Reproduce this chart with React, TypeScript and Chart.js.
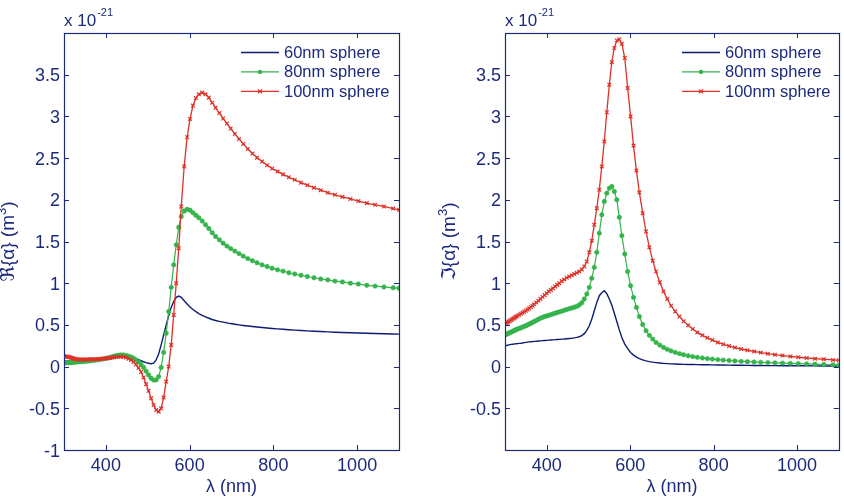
import React, { useEffect, useRef } from "react";
import { Chart, registerables } from "chart.js";
Chart.register(...registerables);

// ---------- data ----------
const wavelengths = [
  300, 303, 306, 309, 312, 315, 318, 321, 324, 327,
  330, 334, 338, 342, 346, 350, 354, 358, 362, 366,
  370, 375, 380, 385, 390, 395, 400, 405, 410, 415,
  420, 425, 430, 436, 442, 448, 454, 460, 466, 472,
  478, 484, 490, 496, 502, 508, 514, 520, 526, 532,
  538, 544, 550, 556, 562, 568, 574, 580, 587, 594,
  601, 608, 615, 622, 630, 638, 646, 654, 662, 671,
  680, 689, 698, 708, 718, 728, 739, 750, 761, 773,
  785, 797, 810, 823, 837, 851, 866, 881, 897, 913,
  930, 947, 965, 984, 1003, 1023, 1043, 1064, 1086, 1100,
];

const re60 = [
  0.07, 0.07, 0.071, 0.072, 0.072, 0.073, 0.074, 0.074, 0.075, 0.075,
  0.076, 0.077, 0.078, 0.079, 0.08, 0.082, 0.083, 0.085, 0.086, 0.088,
  0.09, 0.092, 0.095, 0.098, 0.10, 0.103, 0.106, 0.109, 0.112, 0.116,
  0.12, 0.124, 0.127, 0.13, 0.129, 0.125, 0.12, 0.114, 0.105, 0.095,
  0.083, 0.07, 0.058, 0.048, 0.04, 0.035, 0.042, 0.08, 0.15, 0.26,
  0.38, 0.50, 0.61, 0.71, 0.78, 0.83, 0.845, 0.83, 0.79, 0.75,
  0.715, 0.685, 0.66, 0.635, 0.615, 0.595, 0.58, 0.565, 0.553, 0.542,
  0.533, 0.525, 0.516, 0.508, 0.50, 0.493, 0.486, 0.48, 0.474, 0.468,
  0.462, 0.457, 0.452, 0.447, 0.442, 0.437, 0.432, 0.428, 0.424, 0.42,
  0.416, 0.412, 0.409, 0.406, 0.403, 0.40, 0.397, 0.394, 0.391, 0.389,
];

const re80 = [
  0.05, 0.048, 0.047, 0.047, 0.047, 0.048, 0.05, 0.052, 0.054, 0.055,
  0.056, 0.057, 0.058, 0.06, 0.062, 0.064, 0.066, 0.068, 0.07, 0.072,
  0.075, 0.078, 0.082, 0.086, 0.09, 0.095, 0.10, 0.105, 0.11, 0.118,
  0.125, 0.132, 0.137, 0.14, 0.14, 0.135, 0.125, 0.115, 0.10, 0.08,
  0.055, 0.025, -0.01, -0.055, -0.10, -0.14, -0.162, -0.16, -0.12, -0.01,
  0.17, 0.40, 0.66, 0.95, 1.22, 1.46, 1.67, 1.80, 1.865, 1.886,
  1.875, 1.845, 1.815, 1.785, 1.745, 1.70, 1.655, 1.605, 1.56, 1.52,
  1.48, 1.445, 1.415, 1.385, 1.355, 1.325, 1.295, 1.27, 1.245, 1.22,
  1.20, 1.18, 1.16, 1.145, 1.125, 1.11, 1.095, 1.08, 1.065, 1.05,
  1.04, 1.025, 1.015, 1.0, 0.99, 0.975, 0.965, 0.955, 0.945, 0.94,
];

const re100 = [
  0.12, 0.12, 0.12, 0.118, 0.115, 0.11, 0.105, 0.10, 0.095, 0.09,
  0.088, 0.086, 0.085, 0.085, 0.085, 0.085, 0.085, 0.086, 0.087, 0.088,
  0.088, 0.089, 0.09, 0.09, 0.092, 0.094, 0.096, 0.10, 0.104, 0.108,
  0.112, 0.116, 0.118, 0.118, 0.115, 0.108, 0.095, 0.078, 0.055, 0.025,
  -0.015, -0.065, -0.13, -0.21, -0.29, -0.38, -0.46, -0.52, -0.54, -0.50,
  -0.37, -0.18, 0.0, 0.26, 0.62, 1.0, 1.42, 1.92, 2.40, 2.75,
  2.97, 3.13, 3.22, 3.265, 3.285, 3.265, 3.225, 3.165, 3.105, 3.04,
  2.975, 2.915, 2.855, 2.79, 2.73, 2.67, 2.61, 2.555, 2.505, 2.46,
  2.415, 2.375, 2.34, 2.305, 2.27, 2.24, 2.205, 2.175, 2.145, 2.115,
  2.085, 2.06, 2.035, 2.01, 1.985, 1.96, 1.94, 1.92, 1.895, 1.88,
];

const im60 = [
  0.247, 0.252, 0.256, 0.26, 0.263, 0.266, 0.268, 0.27, 0.272, 0.274,
  0.276, 0.278, 0.28, 0.283, 0.287, 0.29, 0.293, 0.296, 0.298, 0.30,
  0.302, 0.304, 0.307, 0.309, 0.311, 0.313, 0.315, 0.317, 0.319, 0.321,
  0.323, 0.325, 0.327, 0.329, 0.331, 0.334, 0.337, 0.34, 0.344, 0.35,
  0.358, 0.372, 0.395, 0.435, 0.49, 0.57, 0.67, 0.77, 0.85, 0.885,
  0.91, 0.875, 0.81, 0.735, 0.64, 0.54, 0.44, 0.35, 0.27, 0.215,
  0.17, 0.138, 0.114, 0.096, 0.08, 0.069, 0.06, 0.053, 0.048, 0.043,
  0.039, 0.036, 0.033, 0.031, 0.029, 0.027, 0.026, 0.025, 0.024, 0.023,
  0.022, 0.021, 0.02, 0.019, 0.018, 0.017, 0.016, 0.015, 0.014, 0.013,
  0.012, 0.012, 0.011, 0.011, 0.01, 0.01, 0.009, 0.008, 0.008, 0.007,
];

const im80 = [
  0.38, 0.387, 0.394, 0.40, 0.408, 0.415, 0.422, 0.43, 0.437, 0.444,
  0.45, 0.457, 0.465, 0.473, 0.482, 0.49, 0.50, 0.51, 0.52, 0.53,
  0.54, 0.553, 0.567, 0.58, 0.59, 0.60, 0.607, 0.615, 0.623, 0.632,
  0.64, 0.648, 0.656, 0.665, 0.675, 0.685, 0.695, 0.703, 0.712, 0.722,
  0.74, 0.765, 0.81, 0.87, 0.95, 1.06, 1.19, 1.37, 1.60, 1.82,
  1.98, 2.08, 2.14, 2.16, 2.10, 2.0, 1.79, 1.57, 1.35, 1.14,
  0.97, 0.83, 0.71, 0.60, 0.505, 0.43, 0.375, 0.33, 0.29, 0.258,
  0.23, 0.207, 0.188, 0.17, 0.155, 0.142, 0.13, 0.12, 0.111, 0.103,
  0.096, 0.09, 0.084, 0.078, 0.073, 0.068, 0.063, 0.059, 0.055, 0.051,
  0.048, 0.045, 0.042, 0.039, 0.036, 0.033, 0.029, 0.025, 0.021, 0.018,
];

const im100 = [
  0.51, 0.52, 0.53, 0.54, 0.55, 0.56, 0.57, 0.58, 0.59, 0.60,
  0.61, 0.622, 0.634, 0.646, 0.658, 0.67, 0.685, 0.70, 0.715, 0.73,
  0.747, 0.768, 0.79, 0.812, 0.835, 0.857, 0.88, 0.90, 0.92, 0.94,
  0.96, 0.98, 1.0, 1.025, 1.045, 1.065, 1.08, 1.095, 1.11, 1.125,
  1.14, 1.165, 1.20, 1.26, 1.37, 1.51, 1.70, 1.90, 2.12, 2.40,
  2.70, 3.05, 3.38, 3.65, 3.82, 3.91, 3.925, 3.87, 3.70, 3.34,
  3.00, 2.65, 2.35, 2.09, 1.84, 1.62, 1.43, 1.27, 1.14, 1.01,
  0.90, 0.81, 0.73, 0.66, 0.60, 0.545, 0.495, 0.45, 0.41, 0.375,
  0.345, 0.318, 0.29, 0.268, 0.246, 0.228, 0.211, 0.196, 0.182, 0.168,
  0.155, 0.143, 0.132, 0.122, 0.112, 0.103, 0.095, 0.088, 0.08, 0.076,
];

const seriesLabels = ["60nm sphere", "80nm sphere", "100nm sphere"];
const xTicks = [400, 600, 800, 1000];
const yTicks = [-1, -0.5, 0, 0.5, 1, 1.5, 2, 2.5, 3, 3.5];
const yLabelsLeft = [-1, -0.5, 0, 0.5, 1, 1.5, 2, 2.5, 3, 3.5];
const yLabelsRight = [-0.5, 0, 0.5, 1, 1.5, 2, 2.5, 3, 3.5];
const xTitle = "λ (nm)";
const yTitleLeft = ["ℜ{α} (m", "3", ")"];
const yTitleRight = ["ℑ{α} (m", "3", ")"];
const expBase = "x 10";
const expPower = "-21";

// ---------- style ----------
const AXIS = "#1c2a7c";
const BLUE = "#0d1c72";
const GREEN = "#35b34c";
const RED = "#dd3128";
const FONT = '"Liberation Sans", Arial, "DejaVu Sans", sans-serif';

type Panel = {
  series: number[][];
  yLabels: number[];
  yTitle: string[];
  padding: { left: number; right: number; top: number; bottom: number };
  yTitleX: number;
  legendX: number;
};

const leftPanel: Panel = {
  series: [re60, re80, re100],
  yLabels: yLabelsLeft,
  yTitle: yTitleLeft,
  padding: { left: 64, right: 23, top: 33, bottom: 48 },
  yTitleX: 14,
  legendX: 241,
};

const rightPanel: Panel = {
  series: [im60, im80, im100],
  yLabels: yLabelsRight,
  yTitle: yTitleRight,
  padding: { left: 83, right: 4, top: 33, bottom: 48 },
  yTitleX: 33,
  legendX: 260,
};

const colors = [BLUE, GREEN, RED];

function drawMarker(ctx: CanvasRenderingContext2D, i: number, x: number, y: number) {
  if (i === 1) {
    ctx.fillStyle = GREEN;
    ctx.beginPath();
    ctx.arc(x, y, 2.2, 0, Math.PI * 2);
    ctx.fill();
  } else if (i === 2) {
    ctx.strokeStyle = RED;
    ctx.lineWidth = 1.2;
    ctx.beginPath();
    ctx.moveTo(x - 2, y - 2);
    ctx.lineTo(x + 2, y + 2);
    ctx.moveTo(x + 2, y - 2);
    ctx.lineTo(x - 2, y + 2);
    ctx.stroke();
  }
}

function decorPlugin(p: Panel) {
  return {
    id: "decor",
    afterDatasetsDraw(chart: any) {
      const ctx: CanvasRenderingContext2D = chart.ctx;
      const a = chart.chartArea;
      const xs = chart.scales.x;
      const ys = chart.scales.y;
      ctx.save();
      // box
      ctx.strokeStyle = AXIS;
      ctx.lineWidth = 1.2;
      ctx.strokeRect(Math.round(a.left) + 0.5, Math.round(a.top) + 0.5, Math.round(a.right - a.left), Math.round(a.bottom - a.top));
      // inward ticks
      ctx.lineWidth = 1;
      ctx.beginPath();
      for (const v of xTicks) {
        const x = Math.round(xs.getPixelForValue(v)) + 0.5;
        ctx.moveTo(x, a.bottom);
        ctx.lineTo(x, a.bottom - 5);
        ctx.moveTo(x, a.top);
        ctx.lineTo(x, a.top + 5);
      }
      for (const v of yTicks) {
        const y = Math.round(ys.getPixelForValue(v)) + 0.5;
        ctx.moveTo(a.left, y);
        ctx.lineTo(a.left + 5, y);
        ctx.moveTo(a.right, y);
        ctx.lineTo(a.right - 5, y);
      }
      ctx.stroke();
      // tick labels
      ctx.fillStyle = AXIS;
      ctx.font = `18px ${FONT}`;
      ctx.textBaseline = "alphabetic";
      ctx.textAlign = "right";
      for (const v of p.yLabels) {
        const y = ys.getPixelForValue(v);
        ctx.fillText(String(v), a.left - 4, y + 6.5);
      }
      ctx.textAlign = "center";
      for (const v of xTicks) {
        const x = xs.getPixelForValue(v);
        ctx.fillText(String(v), x, 471);
      }
      // x title
      ctx.fillText(xTitle, (a.left + a.right) / 2, 492);
      // y title (with superscript)
      ctx.save();
      ctx.translate(p.yTitleX, (a.top + a.bottom) / 2);
      ctx.rotate(-Math.PI / 2);
      ctx.textAlign = "left";
      const mainFont = `19px ${FONT}`;
      const supFont = `13px ${FONT}`;
      ctx.font = mainFont;
      const w0 = ctx.measureText(p.yTitle[0]).width;
      const w2 = ctx.measureText(p.yTitle[2]).width;
      ctx.font = supFont;
      const w1 = ctx.measureText(p.yTitle[1]).width;
      let cx = -(w0 + w1 + w2) / 2;
      ctx.font = mainFont;
      ctx.fillText(p.yTitle[0], cx, 0);
      cx += w0;
      ctx.font = supFont;
      ctx.fillText(p.yTitle[1], cx, -8);
      cx += w1;
      ctx.font = mainFont;
      ctx.fillText(p.yTitle[2], cx, 0);
      ctx.restore();
      // exponent
      ctx.textAlign = "left";
      ctx.font = `17px ${FONT}`;
      ctx.fillText(expBase, a.left, 26);
      const w = ctx.measureText(expBase).width;
      ctx.font = `11px ${FONT}`;
      ctx.fillText(expPower, a.left + w + 1, 16);
      // legend
      ctx.font = `16.5px ${FONT}`;
      for (let i = 0; i < seriesLabels.length; i++) {
        const y = 52 + i * 19.4;
        const lx = p.legendX;
        ctx.strokeStyle = colors[i];
        ctx.lineWidth = i === 0 ? 1.3 : 1.2;
        ctx.beginPath();
        ctx.moveTo(lx, y + 0.5);
        ctx.lineTo(lx + 38, y + 0.5);
        ctx.stroke();
        drawMarker(ctx, i, lx + 19, y + 0.5);
        ctx.fillStyle = AXIS;
        ctx.fillText(seriesLabels[i], lx + 43, y + 6);
      }
      ctx.restore();
    },
  };
}

function makeConfig(p: Panel): any {
  const [s60, s80, s100] = p.series;
  return {
    type: "line",
    data: {
      datasets: [
        {
          label: seriesLabels[0],
          data: wavelengths.map((x, i) => ({ x, y: s60[i] })),
          borderColor: BLUE,
          borderWidth: 1.4,
          pointRadius: 0,
          order: 2,
        },
        {
          label: seriesLabels[1],
          data: wavelengths.map((x, i) => ({ x, y: s80[i] })),
          borderColor: GREEN,
          borderWidth: 1.2,
          pointStyle: "circle",
          pointRadius: 2.2,
          pointBackgroundColor: GREEN,
          pointBorderColor: GREEN,
          pointBorderWidth: 0.6,
          order: 1,
        },
        {
          label: seriesLabels[2],
          data: wavelengths.map((x, i) => ({ x, y: s100[i] })),
          borderColor: RED,
          borderWidth: 1.3,
          pointStyle: "crossRot",
          pointRadius: 2.6,
          pointBorderColor: RED,
          pointBorderWidth: 1.2,
          order: 0,
        },
      ],
    },
    options: {
      responsive: false,
      animation: false,
      events: [],
      layout: { padding: p.padding },
      elements: { line: { tension: 0 } },
      scales: {
        x: { type: "linear", min: 300, max: 1100, display: false },
        y: { type: "linear", min: -1, max: 4, display: false },
      },
      plugins: { legend: { display: false }, tooltip: { enabled: false } },
    },
    plugins: [decorPlugin(p)],
  };
}

export default function App() {
  const leftRef = useRef<HTMLCanvasElement>(null);
  const rightRef = useRef<HTMLCanvasElement>(null);
  useEffect(() => {
    document.body.style.margin = "0";
    const c1 = new Chart(leftRef.current as HTMLCanvasElement, makeConfig(leftPanel));
    const c2 = new Chart(rightRef.current as HTMLCanvasElement, makeConfig(rightPanel));
    return () => {
      c1.destroy();
      c2.destroy();
    };
  }, []);
  return (
    <div style={{ position: "fixed", left: 0, top: 0, width: 844, height: 498, background: "#fff" }}>
      <canvas ref={leftRef} width={422} height={498} style={{ position: "absolute", left: 0, top: 0 }} />
      <canvas ref={rightRef} width={422} height={498} style={{ position: "absolute", left: 422, top: 0 }} />
    </div>
  );
}
